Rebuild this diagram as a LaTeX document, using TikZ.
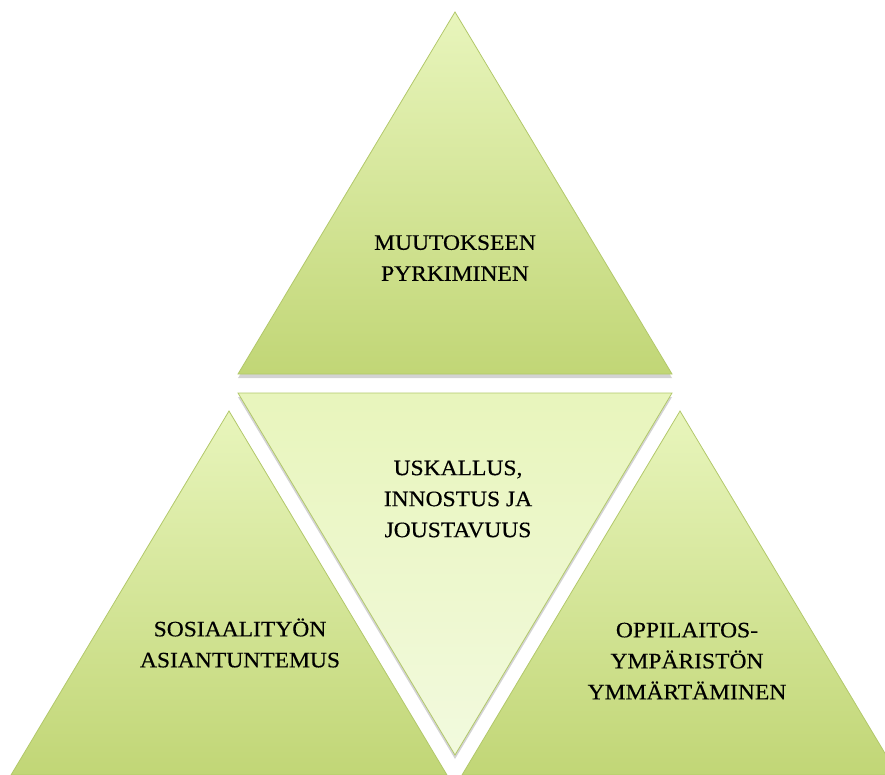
\documentclass[tikz,border=0pt]{standalone}
\usepackage{fontspec}
\setmainfont{Liberation Serif}[FakeStretch=1.07, FakeBold=0.4]
\usetikzlibrary{shadows}

\definecolor{leafdark}{RGB}{193,214,118}
\definecolor{leaflight}{RGB}{232,245,188}
\definecolor{leafpale}{RGB}{242,250,222}
\definecolor{leafline}{RGB}{178,200,106}

\tikzset{
  tri/.style={draw=leafline, line width=0.8pt, top color=leaflight, bottom color=leafdark,
    drop shadow={shadow xshift=0pt, shadow yshift=-4pt, opacity=0.35}},
  label/.style={align=center, font=\fontsize{22}{31}\selectfont, text=black}
}

\begin{document}
\begin{tikzpicture}[x=1pt, y=-1pt]
        \useasboundingbox (0,0) rectangle (885,774);
        \clip (0,0) rectangle (885,774);

        % top and the two lower triangles
        \path[tri] (455,12) -- (672,374) -- (238,374) -- cycle;
        \path[tri] (229,411) -- (447,775) -- (11,775) -- cycle;
        \path[tri] (680,411) -- (898,775) -- (462,775) -- cycle;

        % the upside-down one in the middle
        \path[tri, top color=leaflight, bottom color=leafpale] (238,393) -- (672,393) -- (455,755) -- cycle;

        \node[label] (change) at (455,258) {MUUTOKSEEN\\PYRKIMINEN};
        \node[label] (courage) at (458,499) {USKALLUS,\\INNOSTUS JA\\JOUSTAVUUS};
        \node[label] (social) at (240,643) {SOSIAALITYÖN\\ASIANTUNTEMUS};
        \node[label] (school) at (687,661) {OPPILAITOS-\\YMPÄRISTÖN\\YMMÄRTÄMINEN};
\end{tikzpicture}
\end{document}
